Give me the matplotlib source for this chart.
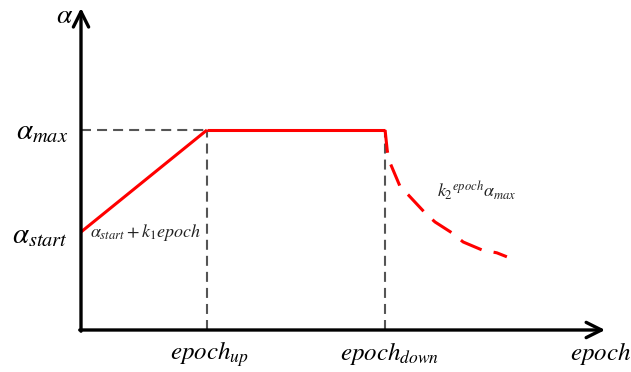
import matplotlib
matplotlib.use("Agg")
import matplotlib.pyplot as plt

plt.rcParams['mathtext.fontset'] = 'stix'
plt.rcParams['font.family'] = ['STIXGeneral', 'DejaVu Serif']

# key schedule values (chart units)
epoch_up = 3.0
epoch_down = 7.24
alpha_start = 2.45
alpha_max = 5.0

# warm-up and plateau
warm_x = [0.0, epoch_up]
warm_y = [alpha_start, alpha_max]
plateau_x = [epoch_up, epoch_down]
plateau_y = [alpha_max, alpha_max]

# decay points
decay_x = [7.24, 7.29, 7.33, 7.60, 7.79, 8.19, 8.43, 8.83, 9.10, 9.55, 9.90, 10.14]
decay_y = [5.00, 4.50, 4.25, 3.58, 3.38, 2.93, 2.70, 2.43, 2.20, 2.00, 1.93, 1.83]

x_end = 12.48
y_end = 8.05

fig = plt.figure(figsize=(6.31, 3.72), dpi=100)
ax = fig.add_axes([0, 0, 1, 1])
ax.set_xlim(-81 / 42, 550 / 42)
ax.set_ylim(-42 / 40, 330 / 40)
ax.axis('off')

gray = '#555555'
ls_gray = dict(color=gray, lw=1.5, dashes=(4.8, 2.9))
ax.plot([0, epoch_up], [alpha_max, alpha_max], **ls_gray)
ax.plot([epoch_up, epoch_up], [0, alpha_max], **ls_gray)
ax.plot([epoch_down, epoch_down], [0, alpha_max], **ls_gray)

red = '#ff0000'
ax.plot(warm_x, warm_y, color=red, lw=2.2, solid_capstyle='butt')
ax.plot(plateau_x, plateau_y, color=red, lw=2.2, solid_capstyle='butt')
ax.plot(decay_x, decay_y, color=red, lw=2.2, dashes=(7.5, 4))

# axes with arrows
arrow = dict(arrowstyle='->,head_length=1.1,head_width=0.55', lw=2.4,
             color='black', shrinkA=0, shrinkB=0)
ax.annotate('', xy=(x_end, 0), xytext=(-0.03, 0), arrowprops=arrow)
ax.annotate('', xy=(0, y_end), xytext=(0, -0.03), arrowprops=arrow)

# labels
ax.text(-0.4, 7.675, r'$\alpha$', fontsize=20, ha='center', va='baseline')
ax.text(-0.31, 4.775, r'$\alpha_{max}$', fontsize=21, ha='right', va='baseline')
ax.text(-0.31, 2.175, r'$\alpha_{start}$', fontsize=21, ha='right', va='baseline')
ax.text(0.214, 2.325, r'$\alpha_{start} + k_1 epoch$', fontsize=13,
        ha='left', va='baseline', color='#222222')
ax.text(8.476, 3.325, r'$k_2{}^{epoch}\alpha_{max}$', fontsize=13,
        ha='left', va='baseline', color='#222222')
ax.text(2.12, -0.75, r'$epoch_{up}$', fontsize=18, ha='left', va='baseline')
ax.text(6.167, -0.75, r'$epoch_{down}$', fontsize=18, ha='left', va='baseline')
ax.text(11.64, -0.75, r'$epoch$', fontsize=18, ha='left', va='baseline')

fig.savefig('out.png', dpi=100)
